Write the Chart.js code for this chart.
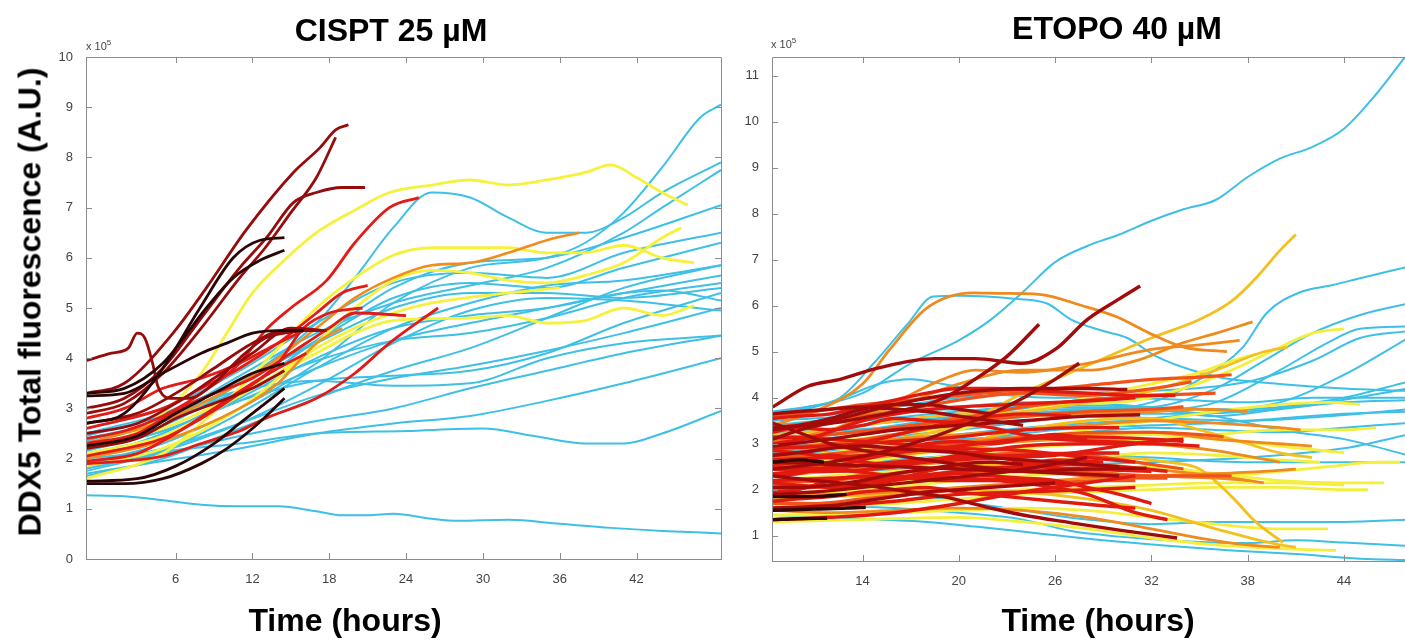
<!DOCTYPE html>
<html>
<head>
<meta charset="utf-8">
<script src="https://cdn.jsdelivr.net/npm/chart.js@4.4.1/dist/chart.umd.min.js"></script>
<style>
  html, body { margin: 0; padding: 0; background: #fff; }
  #wrap { position: relative; width: 1405px; height: 641px; overflow: hidden; font-family: "Liberation Sans", Arial, sans-serif; }
  canvas { position: absolute; top: 0; }
  .big { position: absolute; font-weight: bold; font-size: 32px; color: #000; white-space: nowrap; transform: translate(-50%, -50%); }
  .ylab { transform: translate(-50%, -50%) rotate(-90deg); }
  .exp { position: absolute; font-size: 11px; color: #444; white-space: nowrap; }
  .exp sup { font-size: 8px; }
</style>
</head>
<body>
<div id="wrap">
  <canvas id="cis" width="740" height="641" style="left:0"></canvas>
  <canvas id="eto" width="675" height="641" style="left:730px"></canvas>
  <div class="big ylab" style="left:30px; top:302px">DDX5 Total fluorescence (A.U.)</div>
  <div class="big" style="left:391px; top:30px">CISPT 25 µM</div>
  <div class="big" style="left:1117px; top:28px">ETOPO 40 µM</div>
  <div class="big" style="left:345px; top:620px">Time (hours)</div>
  <div class="big" style="left:1098px; top:620px">Time (hours)</div>
  <div class="exp" style="left:86px; top:38px">x 10<sup>5</sup></div>
  <div class="exp" style="left:771px; top:36px">x 10<sup>5</sup></div>
</div>
<script>
// values in units of 1e5, time in hours; each track is a list of [t, v]

// ---- CISPT 25 uM ----
const cisXTicks = [6, 12, 18, 24, 30, 36, 42];
const cisYTicks = [0, 1, 2, 3, 4, 5, 6, 7, 8, 9, 10];

const cisCyan = [
  [[-1,1.27],[2,1.25],[5,1.17],[8,1.08],[11,1.05],[14,1.05],[17,0.95],[19,0.87],[21,0.87],[23,0.9],[26,0.8],[28,0.76],[32,0.78],[36,0.7],[40,0.62],[44,0.56],[48.6,0.51]],
  [[-1,2.0],[5,2.15],[11,2.3],[17,2.5],[24,2.55],[30,2.6],[34,2.45],[38,2.3],[41,2.3],[44,2.5],[48.6,2.95]],
  [[-1,1.7],[5,1.95],[11,2.2],[17,2.5],[23,2.7],[29,2.85],[35,3.15],[41,3.5],[48.6,4.0]],
  [[-1,1.85],[5,2.1],[11,2.45],[17,2.75],[23,3.0],[29,3.4],[35,3.75],[41,4.1],[48.6,4.45]],
  [[-1,1.9],[5,2.2],[11,2.7],[17,3.25],[23,3.6],[29,3.85],[35,4.15],[41,4.5],[48.6,5.0]],
  [[-1,2.2],[5,2.55],[11,3.15],[17,3.55],[23,3.65],[29,3.75],[35,4.1],[41,4.7],[48.6,5.3]],
  [[-1,2.4],[5,2.75],[11,3.35],[17,3.95],[23,4.35],[29,4.5],[35,4.8],[41,5.2],[48.6,5.5]],
  [[-1,2.1],[5,2.45],[11,3.2],[17,4.0],[23,4.6],[29,4.85],[35,5.0],[41,5.3],[48.6,5.65]],
  [[-1,2.5],[5,2.9],[11,3.55],[17,4.3],[23,5.0],[29,5.3],[35,5.3],[41,5.2],[48.6,5.4]],
  [[-1,1.75],[5,2.15],[11,2.9],[17,3.8],[23,4.6],[29,5.1],[35,5.45],[41,5.55],[48.6,5.85]],
  [[-1,2.3],[5,2.75],[11,3.5],[17,4.35],[23,5.2],[29,5.5],[35,5.4],[41,5.8],[48.6,6.3]],
  [[-1,2.6],[5,3.0],[11,3.75],[17,4.7],[23,5.5],[29,5.7],[35,5.6],[41,6.1],[48.6,6.5]],
  [[-1,2.0],[5,2.5],[11,3.3],[17,4.35],[23,5.4],[29,5.9],[35,6.0],[41,6.4],[48.6,7.05]],
  [[-1,2.2],[5,2.65],[11,3.5],[17,4.7],[20,5.6],[23,6.6],[26,7.3],[29,7.2],[32,6.8],[35,6.5],[38,6.5],[41,6.8],[44,7.3],[48.6,7.9]],
  [[-1,1.9],[5,2.3],[11,3.0],[17,3.9],[23,5.1],[29,5.8],[35,6.0],[38,6.3],[41,6.9],[44,7.8],[47,8.8],[48.6,9.05]],
  [[-1,2.35],[5,2.8],[11,3.65],[17,4.5],[23,5.1],[29,5.45],[35,5.8],[41,6.5],[44,7.0],[48.6,7.75]],
  [[-1,1.65],[5,2.0],[11,2.6],[17,3.2],[23,3.75],[29,4.2],[35,4.8],[41,5.4],[48.6,5.85]],
  [[-1,2.45],[5,2.85],[11,3.35],[17,3.55],[23,3.45],[29,3.5],[35,4.0],[41,4.3],[48.6,4.45]],
  [[-1,1.8],[5,2.15],[11,2.7],[17,3.45],[23,4.3],[29,4.95],[35,5.2],[41,5.15],[48.6,4.95]],
  [[-1,2.15],[5,2.55],[11,3.15],[17,3.8],[23,4.35],[29,4.7],[35,5.0],[41,5.3],[44,5.35],[48.6,5.15]]
];
const cisYellow = [
  [[-1,2.2],[2,2.4],[5,2.9],[8,3.7],[10,4.5],[12,5.3],[14.7,6.0],[17,6.5],[20,6.95],[22.7,7.3],[26,7.45],[29,7.55],[32,7.45],[35,7.55],[38,7.7],[40,7.85],[42,7.6],[44,7.3],[46,7.05]],
  [[-1,1.6],[5,2.1],[8,2.7],[11,3.4],[14,4.2],[17,5.0],[20,5.6],[23,6.05],[26,6.2],[32,6.2],[35,6.1],[38,6.1],[41,6.25],[44,6.0],[46.5,5.9]],
  [[-1,2.25],[5,2.6],[11,3.3],[17,4.1],[20,4.5],[23,4.75],[29,4.8],[32,4.85],[35,4.7],[38,4.75],[41,5.0],[44,4.85],[46.5,5.05]],
  [[-1,1.85],[5,2.2],[11,3.0],[14,3.6],[17,4.3],[20,5.0],[23,5.55],[26,5.75],[29,5.7],[32,5.55],[35,5.5],[38,5.65],[41,5.9],[44,6.4],[45.5,6.6]],
  [[-1,2.1],[5,2.45],[11,3.25],[14,3.7],[17,4.2],[20,4.6],[23,4.9],[26,5.1],[32,5.3],[36,5.4]]
];
const cisOrange = [
  [[-1,2.3],[5,2.75],[11,3.5],[14,4.0],[17,4.6],[20,5.2],[23,5.6],[26,5.85],[29,5.9],[32,6.1],[35,6.35],[37.5,6.5]],
  [[-1,2.0],[5,2.35],[11,3.0],[14,3.5],[17,4.3],[19,4.6]]
];
const cisRed = [
  [[-1,1.9],[2,1.95],[5,2.05],[8,2.3],[11,2.55],[13,2.8],[17,3.2],[20,3.7],[22.7,4.3],[26.5,5.0]],
  [[-1,2.4],[2,2.55],[5,2.85],[8,3.3],[11,3.9],[13,4.55],[15,5.0],[17.8,5.55],[20,6.3],[22.7,7.0],[25,7.2]],
  [[-1,2.05],[5,2.4],[8,2.8],[11,3.3],[14,3.9],[16,4.6],[18,4.9],[20.6,5.0]],
  [[-1,2.6],[5,3.0],[8,3.4],[11,3.8],[14,4.3],[17,4.9],[19,5.3],[21,5.45]],
  [[-1,2.3],[3,2.5],[6,2.95],[9,3.3],[12,3.6],[15,4.1],[18,4.6],[20,4.9],[24,4.85]],
  [[-1,1.95],[3,2.1],[6,2.5],[9,3.0],[12,3.5],[14,3.8],[16.2,4.1]],
  [[-1,2.8],[2,3.0],[5,3.4],[8,3.6],[11,3.9],[14,4.3],[16,4.55]]
];
const cisDarkRed = [
  [[-1,3.3],[2,3.5],[5.8,4.5],[8.4,5.4],[11.5,6.55],[15.2,7.7],[17.3,8.2],[18.5,8.55],[19.5,8.65]],
  [[-1,3.0],[2,3.2],[5,3.8],[8,4.8],[11,5.8],[13.1,6.4],[15.2,7.1],[17,7.3],[19,7.4],[20.8,7.4]],
  [[-1,2.9],[2,3.1],[5,3.7],[8,4.6],[11,5.6],[13,6.2],[15,6.9],[17,7.6],[18.5,8.4]],
  [[-1,3.95],[1,4.1],[2.3,4.2],[3,4.5],[3.6,4.4],[4.2,3.9],[4.6,3.45],[5.5,3.2],[7,3.2],[9,3.5],[11,4.0],[13,4.4],[14.5,4.5],[16,4.55]],
  [[-1,2.7],[3,2.9],[6,3.3],[9,3.8],[12,4.3],[14.5,4.55],[17.5,4.55]],
  [[-1,2.5],[3,2.7],[6,3.1],[9,3.6],[12,4.1],[15,4.6],[17.8,4.55]],
  [[-1,2.2],[3,2.4],[6,2.8],[9,3.1],[12,3.4],[14.5,3.75]]
];
const cisBlack = [
  [[-1,2.7],[2,2.9],[5,3.8],[7.9,5.0],[10.5,6.0],[12.6,6.35],[14.5,6.4]],
  [[-1,3.3],[2,3.4],[5,3.9],[8.4,5.0],[10.5,5.6],[12.6,5.95],[14.5,6.15]],
  [[-1,1.5],[2,1.5],[5,1.6],[8,1.9],[10,2.2],[12,2.6],[13.5,2.95],[14.5,3.2]],
  [[-1,1.55],[3,1.6],[6,1.85],[9,2.3],[11,2.7],[13,3.1],[14.5,3.4]],
  [[-1,3.25],[2,3.3],[5,3.7],[8,4.1],[10,4.3],[12,4.5],[14,4.55],[16,4.55]],
  [[-1,2.25],[3,2.45],[6,2.9],[9,3.3],[12,3.7],[14.5,3.9]]
];

// ---- ETOPO 40 uM ----
const etoXTicks = [14, 20, 26, 32, 38, 44];
const etoYTicks = [1, 2, 3, 4, 5, 6, 7, 8, 9, 10, 11];

const etoCyan = [
  [[8.4,3.6],[11,3.8],[14,4.1],[17,4.75],[20,5.25],[22,5.7],[24,6.3],[26,6.95],[28,7.3],[30,7.55],[32,7.85],[34,8.1],[36,8.3],[38,8.8],[40,9.2],[42,9.45],[44,9.85],[46,10.6],[48,11.5]],
  [[8.4,3.65],[10.5,3.8],[12.6,4.0],[14.7,4.75],[16.8,5.6],[18.4,6.2],[20,6.22],[23.6,6.15],[25.5,6.05],[27,5.7],[29,5.45],[30.5,5.3],[32.3,4.9],[35,4.55],[37,4.4],[40,4.3],[44,4.2],[48,4.15]],
  [[8.4,3.2],[14,3.4],[20,3.6],[26,3.7],[32,3.9],[35,4.4],[37.7,5.1],[39.2,5.85],[41.3,6.3],[43.3,6.45],[45,6.6],[48,6.85]],
  [[8.4,3.0],[14,3.2],[20,3.5],[26,3.75],[32,3.8],[36,4.2],[39,4.8],[42,5.4],[45,5.8],[48,6.05]],
  [[8.4,2.9],[14,3.1],[20,3.3],[26,3.55],[32,3.7],[36,3.9],[40,4.6],[43,5.2],[45,5.5],[48,5.55]],
  [[8.4,3.35],[14,3.5],[20,3.7],[26,3.85],[32,3.8],[36,3.75],[40,3.9],[44,4.5],[48,5.3]],
  [[8.4,2.75],[14,2.9],[20,3.2],[26,3.4],[32,3.55],[36,3.7],[40,3.8],[44,4.0],[48,4.35]],
  [[8.4,3.1],[14,3.3],[20,3.6],[26,3.8],[32,3.75],[36,3.6],[40,3.75],[44,3.9],[48,3.95]],
  [[8.4,2.6],[14,2.8],[20,3.05],[26,3.3],[32,3.4],[36,3.45],[40,3.55],[44,3.65],[48,3.7]],
  [[8.4,2.8],[14,3.0],[20,3.1],[26,3.2],[32,3.35],[36,3.3],[40,3.25],[44,3.35],[48,3.45]],
  [[8.4,3.4],[14,3.6],[20,3.8],[24,3.9],[30,3.85],[36,3.6],[40,3.3],[44,3.1],[48,2.75]],
  [[8.4,2.5],[14,2.6],[20,2.75],[26,2.8],[32,2.7],[38,2.6],[44,2.6],[48,2.6]],
  [[8.4,1.45],[12,1.4],[15,1.35],[18,1.3],[21,1.2],[25,1.05],[29,0.9],[33,0.78],[37,0.68],[41,0.6],[45,0.5],[48,0.47]],
  [[8.4,1.7],[12,1.65],[16,1.6],[20,1.5],[24,1.35],[27,1.1],[30,0.98],[34,0.88],[38,0.84],[41,0.9],[44,0.85],[48,0.78]],
  [[8.4,2.1],[12,2.05],[16,1.95],[20,1.75],[24,1.55],[28,1.35],[32,1.25],[36,1.3],[40,1.3],[44,1.3],[48,1.35]],
  [[8.4,3.7],[12,3.9],[15,4.3],[17,4.4],[19,4.3],[22,4.1],[26,4.0],[30,4.0],[34,3.95],[38,3.9],[42,4.0],[48,4.0]],
  [[8.4,3.5],[13,3.6],[18,3.75],[23,3.7],[28,3.6],[33,3.55],[38,3.5],[43,3.6],[48,3.75]],
  [[8.4,3.25],[13,3.3],[18,3.4],[23,3.55],[28,3.65],[33,3.65],[38,3.7],[43,3.9],[48,4.2]],
  [[8.4,2.35],[14,2.4],[20,2.5],[26,2.55],[32,2.6],[38,2.7],[44,2.9],[48,3.2]],
  [[8.4,3.55],[14,3.7],[20,4.0],[26,4.1],[32,4.15],[38,4.35],[42,4.8],[45,5.3],[48,5.45]]
];
const etoYellow = [
  [[8.4,2.7],[12,2.8],[16,3.0],[20,3.3],[23,3.6],[26,3.85],[30,3.9],[34,4.2],[37,4.6],[40,5.1],[42,5.4],[44,5.5]],
  [[8.4,2.2],[12,2.3],[16,2.4],[20,2.5],[24,2.6],[28,2.7],[32,2.8],[36,2.75],[40,2.65],[42.5,2.6]],
  [[8.4,1.75],[12,1.7],[16,1.75],[20,1.9],[24,2.0],[28,2.05],[32,2.1],[36,2.15],[40,2.15],[44,2.1]],
  [[8.4,1.9],[12,1.95],[16,2.05],[20,2.2],[24,2.3],[28,2.35],[32,2.3],[36,2.3],[40,2.4],[43,2.5],[46,2.6],[47.5,2.6]],
  [[8.4,1.45],[12,1.45],[16,1.5],[20,1.55],[24,1.6],[28,1.55],[32,1.4],[36,1.25],[40,1.15],[43,1.15]],
  [[8.4,2.45],[12,2.5],[16,2.7],[20,2.9],[24,3.1],[28,3.3],[32,3.5],[36,3.7],[40,3.85],[43,3.9],[45,3.85]],
  [[8.4,3.0],[12,3.05],[16,3.2],[20,3.4],[24,3.7],[28,4.0],[32,4.3],[35,4.55],[37,4.8],[38.5,4.95]],
  [[8.4,2.0],[14,2.1],[20,2.3],[26,2.4],[32,2.5],[36,2.35],[40,2.2],[44,2.15],[46.5,2.15]],
  [[8.4,1.3],[14,1.35],[20,1.4],[24,1.3],[28,1.15],[32,0.95],[36,0.8],[40,0.72],[43.5,0.68]],
  [[8.4,2.35],[12,2.45],[16,2.6],[20,2.75],[24,2.9],[28,3.0],[32,3.1],[36,3.2],[40,3.3],[44,3.3],[46,3.35]],
  [[8.4,1.65],[12,1.65],[16,1.7],[20,1.8],[24,1.9],[28,1.95],[32,2.0],[36,2.05],[40,2.05],[44,2.0],[45.5,2.0]],
  [[8.4,2.55],[12,2.65],[16,2.8],[20,2.95],[24,3.05],[28,3.15],[32,3.2],[36,3.1],[40,2.95],[44,2.8]]
];
const etoGold = [
  [[8.4,2.9],[12,2.95],[16,3.1],[20,3.4],[24,4.1],[28,4.7],[32,5.3],[35,5.7],[37,6.1],[38.5,6.6],[40,7.2],[41,7.55]],
  [[8.4,2.6],[12,2.7],[16,2.85],[20,3.0],[24,3.3],[28,3.5],[32,3.55],[35,3.3],[38,3.0],[40,2.8],[42,2.7]],
  [[8.4,2.2],[14,2.3],[20,2.5],[26,2.6],[30,2.7],[33,2.6],[35,2.45],[37,1.85],[38.5,1.3],[40.2,0.85]],
  [[8.4,1.8],[12,1.85],[16,1.9],[20,2.0],[24,1.95],[28,1.8],[32,1.55],[36,1.15],[40,0.8],[41,0.75]],
  [[8.4,3.2],[12,3.3],[16,3.5],[20,3.65],[24,3.7],[28,3.9],[32,4.15],[36,4.6],[39,5.0],[40.5,5.1]]
];
const etoOrange = [
  [[8.4,3.4],[11,3.7],[14,4.3],[15.7,5.05],[18,5.95],[20.9,6.28],[22.6,6.27],[25,6.25],[27.7,6.0],[29.9,5.75],[31.9,5.4],[34,5.1],[36.7,5.0]],
  [[8.4,3.3],[12,3.5],[16,3.8],[20,4.3],[24,4.6],[28,4.6],[31,4.8],[34,5.2],[36,5.4],[38.3,5.65]],
  [[8.4,3.05],[12,3.3],[16,3.9],[19,4.4],[21,4.6],[24,4.55],[28,4.75],[32,5.05],[35,5.15],[37.5,5.25]],
  [[8.4,2.3],[12,2.4],[16,2.5],[20,2.6],[24,2.55],[28,2.4],[32,2.3],[36,2.25],[38,2.2]],
  [[8.4,2.55],[12,2.6],[16,2.75],[20,2.9],[24,3.05],[28,3.1],[32,3.0],[36,2.85],[40,2.6]],
  [[8.4,1.55],[12,1.5],[16,1.55],[20,1.6],[24,1.55],[28,1.4],[32,1.15],[35,0.95],[38,0.8],[40,0.75]],
  [[8.4,2.85],[12,2.95],[16,3.1],[20,3.2],[24,3.3],[28,3.4],[32,3.5],[36,3.45],[40,3.35],[41.3,3.3]],
  [[8.4,2.0],[12,2.1],[16,2.25],[20,2.4],[24,2.5],[28,2.55],[32,2.45],[36,2.3],[39,2.15]],
  [[8.4,3.15],[12,3.2],[16,3.35],[20,3.5],[24,3.6],[28,3.65],[32,3.7],[35,3.75],[38,3.7]],
  [[8.4,1.95],[12,1.9],[16,1.95],[20,2.05],[24,2.15],[28,2.25],[32,2.3],[36,2.35],[39,2.4],[41,2.45]],
  [[8.4,2.65],[12,2.75],[16,2.9],[20,3.05],[24,3.15],[28,3.2],[32,3.25],[36,3.1],[40,3.0],[42,2.95]]
];
const etoOrangeRed = [
  [[8.4,3.35],[12,3.5],[16,3.7],[20,3.95],[24,4.1],[28,4.05],[31,4.15],[33,4.25],[34.5,4.35]],
  [[8.4,2.9],[12,3.0],[16,3.2],[20,3.45],[24,3.6],[28,3.7],[32,3.75],[34,3.8]],
  [[8.4,2.45],[12,2.5],[16,2.6],[20,2.7],[24,2.8],[28,2.75],[32,2.55],[34,2.45]],
  [[8.4,2.15],[12,2.2],[16,2.35],[20,2.5],[24,2.45],[28,2.3],[32,2.25],[33,2.25]],
  [[8.4,3.1],[12,3.2],[16,3.35],[20,3.55],[24,3.8],[28,3.95],[32,4.05],[36,4.1]],
  [[8.4,2.7],[11,2.75],[14,2.85],[17,2.95],[20,3.0],[23,3.1],[26,3.2],[29,3.25],[32,3.25],[35,3.2],[36.5,3.15]],
  [[8.4,2.0],[11,2.05],[14,2.15],[17,2.25],[20,2.35],[23,2.4],[26,2.4],[29,2.35],[32,2.3],[35,2.3],[37,2.3]],
  [[8.4,3.6],[11,3.7],[14,3.85],[17,3.95],[20,4.05],[23,4.15],[26,4.2],[29,4.3],[32,4.4],[35,4.45],[37,4.5]],
  [[8.4,1.7],[11,1.7],[14,1.8],[17,1.9],[20,2.0],[23,2.1],[26,2.15],[29,2.2],[31,2.2]]
];
const etoRed = [
  [[8.4,2.65],[12,2.7],[16,2.8],[20,2.95],[24,3.1],[28,3.15],[32,3.1],[34,3.05]],
  [[8.4,2.35],[12,2.45],[16,2.6],[20,2.7],[24,2.75],[28,2.8],[30,2.8]],
  [[8.4,2.05],[12,2.1],[16,2.25],[20,2.4],[24,2.5],[28,2.45],[32,2.4]],
  [[8.4,2.5],[12,2.45],[16,2.3],[19,2.2],[22,2.2],[25,2.1],[28,1.9],[31,1.5],[33,1.35]],
  [[8.4,2.9],[12,2.95],[16,3.05],[20,3.15],[24,3.3],[28,3.35],[30,3.35]],
  [[8.4,3.15],[12,3.1],[16,3.0],[20,2.9],[24,2.85],[28,2.7],[31,2.6]],
  [[8.4,1.6],[12,1.65],[16,1.75],[20,1.9],[24,1.95],[28,2.0],[31,2.05]],
  [[8.4,2.2],[12,2.25],[16,2.3],[20,2.25],[24,2.2],[27,2.1]],
  [[8.4,2.75],[12,2.9],[15,3.1],[18,3.35],[21,3.55],[24,3.65],[27,3.6]],
  [[8.4,1.35],[12,1.4],[16,1.5],[20,1.7],[24,1.95],[28,2.15],[31,2.3]],
  [[8.4,2.45],[12,2.4],[16,2.5],[20,2.75],[24,2.95],[28,3.0],[32,3.0],[35,2.95]],
  [[8.4,3.0],[11,3.15],[14,3.5],[17,3.7],[20,3.8],[23,3.85],[26,3.9],[29,3.95],[31,4.0]],
  [[8.4,2.55],[10,2.6],[12,2.75],[14,2.7],[16,2.85],[18,3.0],[20,3.05],[22,3.0],[24,3.1],[26,3.2],[28,3.1]],
  [[8.4,1.95],[10,2.0],[12,2.2],[14,2.3],[16,2.25],[18,2.4],[20,2.55],[22,2.6],[24,2.55],[26,2.65],[29,2.6]],
  [[8.4,3.25],[10,3.35],[12,3.3],[14,3.4],[16,3.55],[18,3.5],[20,3.45],[22,3.35],[24,3.2],[26,3.1],[29,3.05],[32,3.0]],
  [[8.4,1.75],[10,1.8],[12,1.85],[14,1.95],[16,2.0],[18,2.05],[20,1.95],[23,1.85],[26,1.75],[29,1.65],[31,1.6]],
  [[8.4,2.85],[10,2.8],[12,2.7],[14,2.6],[16,2.55],[18,2.6],[20,2.65],[23,2.7],[26,2.75],[29,2.9],[32,3.05],[34,3.1]],
  [[8.4,2.3],[10,2.35],[12,2.5],[14,2.65],[16,2.8],[18,2.9],[20,2.85],[22,2.75],[24,2.6],[27,2.55],[30,2.5],[33,2.4]],
  [[8.4,3.55],[10,3.6],[12,3.65],[14,3.8],[16,3.95],[18,4.1],[20,4.2],[22,4.2],[25,4.15],[28,4.1],[31,4.05],[33.5,4.05]],
  [[8.4,2.15],[10,2.1],[12,2.05],[14,2.1],[16,2.2],[18,2.3],[20,2.35],[22,2.3],[24,2.25],[26,2.2],[28,2.05],[30,1.9],[32,1.7]]
];
const etoDarkRed = [
  [[8.4,3.8],[10.6,4.25],[12.6,4.4],[15,4.65],[18.5,4.85],[21,4.85],[24,4.75],[26,5.05],[28,5.7],[30,6.15],[31.3,6.43]],
  [[8.4,3.1],[10.6,3.35],[13,3.5],[15.7,3.67],[18.8,3.95],[21,4.4],[23,4.9],[25,5.6]],
  [[8.4,2.3],[11,2.2],[14,2.1],[17,1.95],[19,1.85],[22,1.6],[24,1.45],[27,1.28],[30,1.12],[33.6,0.95]],
  [[8.4,3.3],[12,3.5],[16,3.85],[20,4.1],[24,4.2],[28,4.2],[30.5,4.18]],
  [[8.4,2.95],[12,3.1],[16,3.3],[20,3.4],[24,3.5],[28,3.6],[31.3,3.63]],
  [[8.4,2.6],[12,2.55],[16,2.5],[20,2.45],[24,2.4],[28,2.45],[31.7,2.47]],
  [[8.4,1.9],[11,1.95],[14,2.05],[18,2.2],[22,2.35],[25,2.5],[28,2.7]],
  [[8.4,3.45],[10,3.25],[12,3.0],[15,2.8],[18,2.65],[21,2.5],[24,2.4],[27,2.35],[30,2.3]],
  [[8.4,3.35],[10,3.4],[12,3.55],[14,3.75],[16,3.85],[18,3.85],[20,3.75],[22,3.65]],
  [[8.4,2.45],[12,2.6],[15,2.8],[18,3.1],[21,3.5],[23.5,3.9],[26,4.4],[27.5,4.75]],
  [[8.4,2.75],[10,2.8],[12,2.9],[14,2.95],[16,2.9],[18,2.85],[20,2.8],[22,2.7],[24,2.65],[26,2.6],[28,2.55],[30,2.5]],
  [[8.4,2.05],[10,2.05],[12,2.1],[14,2.2],[16,2.35],[18,2.45],[20,2.55],[22,2.6],[24,2.55]],
  [[8.4,3.65],[10,3.7],[12,3.75],[14,3.8],[16,3.75],[18,3.7],[20,3.6],[22,3.5],[24,3.4]],
  [[8.4,1.6],[10,1.62],[12,1.65],[14,1.75],[16,1.85],[18,1.95],[20,2.0],[22,2.05],[24,2.1],[26,2.15]]
];
const etoBlack = [
  [[8.4,1.35],[10,1.37],[11.8,1.38]],
  [[8.4,1.55],[11,1.58],[13,1.6],[14.2,1.62]],
  [[8.4,2.6],[10,2.65],[11.6,2.6]],
  [[8.4,1.85],[11,1.85],[13,1.9]]
];

function lines(list, color, width) {
  return list.map(tr => ({
    data: tr.map(p => ({x: p[0], y: p[1]})),
    borderColor: color,
    borderWidth: width,
    pointRadius: 0,
    fill: false,
    cubicInterpolationMode: 'monotone',
    clip: 0
  }));
}

// box with inward ticks, like the original figure
const frame = {
  id: 'frame',
  afterDraw(chart) {
    const {ctx, chartArea: a, scales: {x, y}} = chart;
    const showRight = a.right < chart.width - 2;
    ctx.save();
    ctx.strokeStyle = '#8c8c8c';
    ctx.lineWidth = 1;
    ctx.beginPath();
    ctx.moveTo(a.left + 0.5, a.bottom + 0.5);
    ctx.lineTo(a.left + 0.5, a.top + 0.5);
    ctx.lineTo(a.right + 0.5, a.top + 0.5);
    if (showRight) ctx.lineTo(a.right + 0.5, a.bottom + 0.5);
    ctx.moveTo(a.left, a.bottom + 0.5);
    ctx.lineTo(a.right + 1, a.bottom + 0.5);
    x.ticks.forEach(t => {
      const px = Math.round(x.getPixelForValue(t.value)) + 0.5;
      ctx.moveTo(px, a.bottom); ctx.lineTo(px, a.bottom - 6);
      ctx.moveTo(px, a.top); ctx.lineTo(px, a.top + 6);
    });
    y.ticks.forEach(t => {
      const py = Math.round(y.getPixelForValue(t.value)) + 0.5;
      ctx.moveTo(a.left, py); ctx.lineTo(a.left + 6, py);
      if (showRight) { ctx.moveTo(a.right, py); ctx.lineTo(a.right - 6, py); }
    });
    ctx.stroke();
    ctx.restore();
  }
};

function makeChart(id, datasets, xr, yr, xt, yt, pad) {
  const tickFont = {family: '"Liberation Sans", Arial, sans-serif', size: 13};
  return new Chart(document.getElementById(id), {
    type: 'line',
    data: {datasets: datasets},
    options: {
      responsive: false,
      animation: false,
      devicePixelRatio: 1,
      layout: {padding: pad},
      plugins: {legend: {display: false}, tooltip: {enabled: false}},
      scales: {
        x: {
          type: 'linear', min: xr[0], max: xr[1],
          grid: {display: false}, border: {display: false},
          afterBuildTicks: s => { s.ticks = xt.map(v => ({value: v})); },
          afterFit: s => { s.height = 30; },
          ticks: {font: tickFont, color: '#444', padding: 5, maxRotation: 0}
        },
        y: {
          type: 'linear', min: yr[0], max: yr[1],
          grid: {display: false}, border: {display: false},
          afterBuildTicks: s => { s.ticks = yt.map(v => ({value: v})); },
          afterFit: s => { s.width = 40; },
          ticks: {font: tickFont, color: '#444', padding: 5}
        }
      }
    },
    plugins: [frame]
  });
}

// darker tracks first so they sit on top; cyan drawn underneath
const cisSets = [].concat(
  lines(cisBlack, '#2a0505', 2.8),
  lines(cisDarkRed, '#960b0b', 2.8),
  lines(cisRed, '#e41a16', 2.8),
  lines(cisOrange, '#f08c1c', 2.6),
  lines(cisYellow, '#f6f13a', 2.8),
  lines(cisCyan, '#3ec0e6', 2)
);
const etoSets = [].concat(
  lines(etoBlack, '#320404', 3.4),
  lines(etoDarkRed, '#a30b0b', 3.4),
  lines(etoRed, '#e11a10', 3.4),
  lines(etoOrangeRed, '#f0521a', 3.2),
  lines(etoOrange, '#ee8a1e', 2.8),
  lines(etoGold, '#f4c01e', 2.8),
  lines(etoYellow, '#f4ef3c', 2.8),
  lines(etoCyan, '#3ec0e6', 2)
);

makeChart('cis', cisSets, [-1, 48.6], [0, 10], cisXTicks, cisYTicks,
  {left: 46, top: 57, right: 19, bottom: 52});
makeChart('eto', etoSets, [8.36, 47.8], [0.45, 11.41], etoXTicks, etoYTicks,
  {left: 2, top: 57, right: 0, bottom: 50});
</script>
</body>
</html>
